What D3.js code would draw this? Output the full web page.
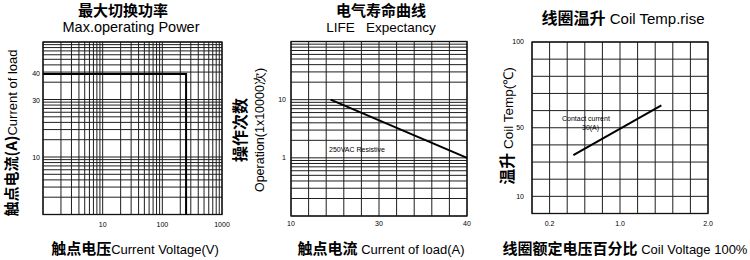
<!DOCTYPE html>
<html><head><meta charset="utf-8">
<script src="https://cdn.jsdelivr.net/npm/d3@7"></script>
<style>
body{margin:0;background:#fff}
svg{display:block}
text{font-family:"Liberation Sans",Arial,sans-serif;fill:#000;white-space:pre}
.cn{font-family:"Noto Sans CJK SC",sans-serif;font-weight:700}
</style></head><body>
<svg width="750" height="260"></svg>
<script>
// ---- Panel 1: Max operating power ----
const powerVoltTicks = [10, 100, 1000];
const powerCurrentTicks = [10, 30, 40];
const maxPowerVoltage = [1, 250, 250];
const maxPowerCurrent = [40, 40, 0];
// ---- Panel 2: Life expectancy ----
const lifeCurrentTicks = [10, 30, 40];
const lifeOpsTicks = [1, 10];
const lifeCurrent = [19, 40];
const lifeOps = [10, 1];
// ---- Panel 3: Coil temperature rise ----
const coilVoltTicks = [0.2, 1.0, 2.0];
const coilTempTicks = [10, 50, 100];
const coilVolt = [0.47, 1.47];
const coilTemp = [34, 63];

const svg = d3.select("svg");
const gridColor = "#1e1e1e";

function logGrid(lo, hi) {
  const v = [];
  const e0 = Math.round(Math.log10(lo)), e1 = Math.round(Math.log10(hi));
  for (let e = e0; e < e1; e++) for (let m = 1; m < 10; m++) v.push(+(m * Math.pow(10, e)).toPrecision(6));
  v.push(hi);
  return v;
}
function vLines(g, xs, y0, y1) {
  g.selectAll(null).data(xs).join("line")
    .attr("x1", d => d).attr("x2", d => d).attr("y1", y0).attr("y2", y1)
    .attr("stroke", gridColor).attr("stroke-width", 1);
}
function hLines(g, ys, x0, x1) {
  g.selectAll(null).data(ys).join("line")
    .attr("y1", d => d).attr("y2", d => d).attr("x1", x0).attr("x2", x1)
    .attr("stroke", gridColor).attr("stroke-width", 1);
}
function frame(g, x0, x1, y0, y1) {
  g.append("rect").attr("x", x0).attr("y", y0).attr("width", x1 - x0).attr("height", y1 - y0)
    .attr("fill", "none").attr("stroke", "#111").attr("stroke-width", 1.3);
}
function tickLabelsX(g, vals, scale, y, fmt) {
  g.selectAll(null).data(vals).join("text")
    .attr("x", d => scale(d)).attr("y", y).attr("text-anchor", "middle")
    .attr("font-size", 7).text(fmt);
}
function tickLabelsY(g, vals, scale, x, fmt) {
  g.selectAll(null).data(vals).join("text")
    .attr("x", x).attr("y", d => scale(d)).attr("dy", "0.35em").attr("text-anchor", "end")
    .attr("font-size", 7).text(fmt);
}
function mixedText(g, x, y, parts, anchor, rotate) {
  const t = g.append("text").attr("text-anchor", anchor || "middle");
  if (rotate) t.attr("transform", `translate(${x},${y}) rotate(-90)`);
  else t.attr("x", x).attr("y", y);
  parts.forEach(p => {
    const s = t.append("tspan").attr("font-size", p.size).text(p.text);
    if (p.cn) s.attr("class", "cn");
  });
  return t;
}

// ================= Panel 1 =================
{
  const X0 = 43, X1 = 222, Y0 = 42, Y1 = 214.5;
  const x = d3.scaleLog().domain([1, 1000]).range([X0, X1]);
  const gy = d3.scaleLog().domain([1, 1000]).range([Y1, Y0]);
  const cur = d3.scaleLinear().domain([0, 10, 30, 40]).range([Y1, 158, 101, 74]);
  const g = svg.append("g");
  vLines(g, logGrid(1, 1000).map(x), Y0, Y1);
  hLines(g, logGrid(1, 1000).map(gy), X0, X1);
  frame(g, X0, X1, Y0, Y1);
  const line = d3.line().x(i => x(maxPowerVoltage[i])).y(i => cur(maxPowerCurrent[i]));
  g.append("path").attr("d", line(d3.range(maxPowerVoltage.length)))
    .attr("fill", "none").attr("stroke", "#000").attr("stroke-width", 2);
  tickLabelsX(g, powerVoltTicks, x, 226.5, d => d);
  tickLabelsY(g, powerCurrentTicks, cur, 40, d => d);
  g.append("text").attr("class", "cn").attr("x", 123).attr("y", 16).attr("text-anchor", "middle")
    .attr("font-size", 15).text("最大切换功率");
  g.append("text").attr("x", 131).attr("y", 31.5).attr("text-anchor", "middle")
    .attr("font-size", 14.5).text("Max.operating Power");
  mixedText(g, 135, 254, [{text: "触点电压", size: 15, cn: true}, {text: "Current Voltage(V)", size: 13}]);
  mixedText(g, 17, 133, [{text: "触点电流(A)", size: 15, cn: true}, {text: "Current of load", size: 13}], "middle", true);
}

// ================= Panel 2 =================
{
  const X0 = 291, X1 = 467, Y0 = 41.5, Y1 = 216;
  const x = d3.scaleLinear().domain([10, 30, 40]).range([X0, 379, X1]);
  const col = d3.scaleLinear().domain([0, 10]).range([X0, X1]);
  const y = d3.scaleLog().domain([0.1, 100]).range([Y1, Y0]);
  const g = svg.append("g");
  vLines(g, d3.range(11).map(col), Y0, Y1);
  hLines(g, logGrid(0.1, 100).map(y), X0, X1);
  frame(g, X0, X1, Y0, Y1);
  const line = d3.line().x(i => x(lifeCurrent[i])).y(i => y(lifeOps[i]));
  g.append("path").attr("d", line(d3.range(lifeCurrent.length)))
    .attr("fill", "none").attr("stroke", "#000").attr("stroke-width", 2);
  g.append("text").attr("x", 329).attr("y", 151.5).attr("font-size", 7).text("250VAC Resistive");
  tickLabelsX(g, lifeCurrentTicks, x, 225.5, d => d);
  tickLabelsY(g, lifeOpsTicks, y, 286, d => d);
  g.append("text").attr("class", "cn").attr("x", 381).attr("y", 16).attr("text-anchor", "middle")
    .attr("font-size", 15).text("电气寿命曲线");
  g.append("text").attr("x", 381).attr("y", 31.5).attr("text-anchor", "middle")
    .attr("font-size", 13.5).text("LIFE   Expectancy");
  mixedText(g, 381, 254, [{text: "触点电流", size: 15, cn: true}, {text: " Current of load(A)", size: 13}]);
  mixedText(g, 246, 130, [{text: "操作次数", size: 16, cn: true}], "middle", true);
  mixedText(g, 264, 130, [{text: "Operation(1x10000次)", size: 12.5}], "middle", true);
}

// ================= Panel 3 =================
{
  const X0 = 532, X1 = 708, Y0 = 42, Y1 = 213.5;
  const x = d3.scaleLinear().domain([0, 2]).range([X0, X1]);
  const y = d3.scaleLinear().domain([0, 100]).range([Y1, Y0]);
  const g = svg.append("g");
  vLines(g, d3.range(0, 11).map(i => x(i * 0.2)), Y0, Y1);
  hLines(g, d3.range(0, 11).map(i => y(i * 10)), X0, X1);
  frame(g, X0, X1, Y0, Y1);
  const line = d3.line().x(i => x(coilVolt[i])).y(i => y(coilTemp[i]));
  g.append("path").attr("d", line(d3.range(coilVolt.length)))
    .attr("fill", "none").attr("stroke", "#000").attr("stroke-width", 2);
  g.append("text").attr("x", 562).attr("y", 120.5).attr("font-size", 7).text("Contact current");
  g.append("text").attr("x", 582).attr("y", 129.5).attr("font-size", 7).text("30(A)");
  tickLabelsX(g, coilVoltTicks, x, 225.5, d => d.toFixed(1));
  tickLabelsY(g, coilTempTicks, y, 524, d => d);
  mixedText(g, 623, 23.5, [{text: "线圈温升", size: 16, cn: true}, {text: " Coil Temp.rise", size: 15}]);
  mixedText(g, 625, 254, [{text: "线圈额定电压百分比", size: 15, cn: true}, {text: " Coil Voltage 100%", size: 13}]);
  mixedText(g, 513, 126, [{text: "温升", size: 16, cn: true}, {text: " Coil Temp(℃)", size: 13.5}], "middle", true);
}
</script>
</body></html>
